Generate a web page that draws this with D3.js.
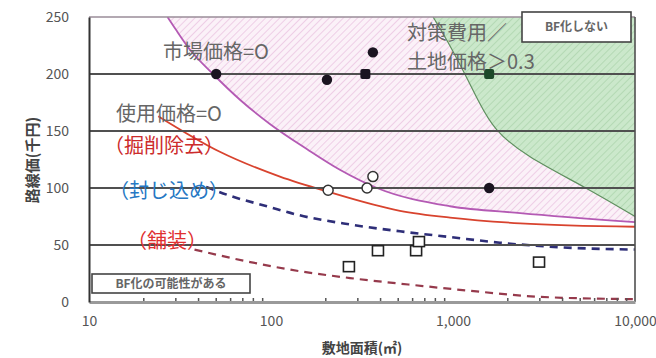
<!DOCTYPE html>
<html>
<head>
<meta charset="utf-8">
<script src="https://cdn.jsdelivr.net/npm/d3@7"></script>
<style>
  html, body { margin: 0; padding: 0; background: #fff; }
  svg { display: block; }
  text { font-family: "Noto Sans CJK JP", "Noto Sans", sans-serif; }
</style>
</head>
<body>
<svg id="chart" width="656" height="358"></svg>
<script>
// 敷地面積 (㎡) × 路線価 (千円)
const xTickValues = [10, 100, 1000, 10000];
const xTickLabels = ["10", "100", "1,000", "10,000"];
const yTickValues = [0, 50, 100, 150, 200, 250];
const gridValues = [50, 100, 150, 200];

// 境界曲線 [面積, 路線価]
const marketZeroCurve = [[27, 250], [30, 239], [36, 221], [48, 200], [68, 177], [99, 156], [158, 134], [239, 116], [382, 100], [963, 84], [2340, 78], [10000, 70]];
const excavationCurve = [[24, 163], [52, 132], [112, 110], [203, 97], [511, 80], [963, 74], [2340, 69], [10000, 66]];
const containmentCurve = [[44, 101], [60, 93], [95, 84], [144, 76], [272, 68], [511, 62], [963, 57], [1810, 52], [3870, 48], [10000, 46]];
const pavingCurve = [[38, 46], [77, 35], [144, 27], [272, 21], [684, 14], [1400, 9], [3000, 4.5], [10000, 2.5]];
const costRatioCurve = [[777, 250], [927, 230], [1164, 200], [1400, 174], [1680, 151], [2500, 128], [5450, 100], [10000, 75]];

// 事例
const filledCircles = [[50, 200], [203, 195], [363, 219], [1580, 100]];
const filledSquares = [[330, 200]];
const greenSquares = [[1580, 200]];
const openCircles = [[206, 98], [337, 100], [363, 110]];
const openSquares = [[268, 31], [387, 45], [627, 45], [650, 53], [2970, 35]];

const svg = d3.select("#chart");
const W = 656, H = 358;
const m = { left: 89, right: 21, top: 17, bottom: 56 };
const x = d3.scaleLog().domain([10, 10000]).range([m.left, W - m.right]);
const y = d3.scaleLinear().domain([0, 250]).range([H - m.bottom, m.top]);

const defs = svg.append("defs");
function hatch(id, bg, fg) {
  const p = defs.append("pattern").attr("id", id)
    .attr("patternUnits", "userSpaceOnUse").attr("width", 5).attr("height", 5)
    .attr("patternTransform", "rotate(45)");
  p.append("rect").attr("width", 5).attr("height", 5).attr("fill", bg);
  p.append("line").attr("x1", 0).attr("y1", 0).attr("x2", 0).attr("y2", 5)
    .attr("stroke", fg).attr("stroke-width", 1.6);
}
hatch("pinkHatch", "#fbf1f8", "#ebc6e2");
hatch("greenHatch", "#cbe8cb", "#aed6ae");
defs.append("clipPath").attr("id", "plotClip").append("rect")
  .attr("x", m.left).attr("y", m.top)
  .attr("width", W - m.left - m.right).attr("height", H - m.top - m.bottom);

const line = d3.line().x(d => x(d[0])).y(d => y(d[1])).curve(d3.curveMonotoneX);
const smoothLine = d3.line().x(d => x(d[0])).y(d => y(d[1])).curve(d3.curveBasis);

const plot = svg.append("g").attr("clip-path", "url(#plotClip)");

// 市場価格=0 より上の領域
plot.append("path").attr("d", line(marketZeroCurve) + "L" + x(10000) + "," + y(250) + "Z")
  .attr("fill", "url(#pinkHatch)");
// 対策費用/土地価格>0.3 の領域
plot.append("path").attr("d", smoothLine(costRatioCurve) + "L" + x(10000) + "," + y(250) + "Z")
  .attr("fill", "url(#greenHatch)");

// 横グリッド
svg.append("g").selectAll("line").data(gridValues).join("line")
  .attr("x1", m.left).attr("x2", W - m.right)
  .attr("y1", d => y(d)).attr("y2", d => y(d))
  .attr("stroke", "#505050").attr("stroke-width", 1.8);

// 上枠
svg.append("line").attr("x1", m.left).attr("x2", W - m.right)
  .attr("y1", y(250)).attr("y2", y(250))
  .attr("stroke", "#9a8c98").attr("stroke-width", 1.4);
// 右枠
svg.append("line").attr("x1", x(10000)).attr("x2", x(10000))
  .attr("y1", y(250)).attr("y2", y(0))
  .attr("stroke", "#505050").attr("stroke-width", 1.6);

// 境界線
plot.append("path").attr("d", smoothLine(costRatioCurve)).attr("fill", "none")
  .attr("stroke", "#5f8f5f").attr("stroke-width", 1.2);
plot.append("path").attr("d", line(pavingCurve)).attr("fill", "none")
  .attr("stroke", "#963a4c").attr("stroke-width", 2.2).attr("stroke-dasharray", "8,6");
plot.append("path").attr("d", line(containmentCurve)).attr("fill", "none")
  .attr("stroke", "#2e2e78").attr("stroke-width", 2.6).attr("stroke-dasharray", "8,6");
plot.append("path").attr("d", line(excavationCurve)).attr("fill", "none")
  .attr("stroke", "#d8432e").attr("stroke-width", 1.8);
plot.append("path").attr("d", line(marketZeroCurve)).attr("fill", "none")
  .attr("stroke", "#b45ab4").attr("stroke-width", 1.8);

// 軸
const xAxis = d3.axisBottom(x).tickValues(xTickValues).tickFormat((d, i) => xTickLabels[i]).tickSize(0).tickPadding(14);
const gx = svg.append("g").attr("transform", `translate(0,${y(0)})`).call(xAxis);
gx.select(".domain").attr("stroke", "#9a9a9a").attr("stroke-width", 3);
gx.selectAll("text").attr("font-family", "Liberation Sans, Arial, sans-serif")
  .attr("font-size", 14).attr("fill", "#555");
// 補助目盛
const minor = [];
[10, 100, 1000].forEach(b => { for (let k = 2; k <= 9; k++) minor.push(b * k); });
svg.append("g").selectAll("line").data(minor).join("line")
  .attr("x1", d => x(d)).attr("x2", d => x(d))
  .attr("y1", y(0) - 1).attr("y2", y(0) - 4)
  .attr("stroke", "#555").attr("stroke-width", 1.5);

const yAxis = d3.axisLeft(y).tickValues(yTickValues).tickSize(0).tickPadding(20);
const gy = svg.append("g").attr("transform", `translate(${m.left},0)`).call(yAxis);
gy.select(".domain").attr("stroke", "#333").attr("stroke-width", 2);
gy.selectAll("text").attr("font-family", "Liberation Sans, Arial, sans-serif")
  .attr("font-size", 14).attr("fill", "#555");

// 事例マーカー
const pts = svg.append("g");
pts.selectAll(".fc").data(filledCircles).join("circle")
  .attr("cx", d => x(d[0])).attr("cy", d => y(d[1])).attr("r", 5.2)
  .attr("fill", "#1a1420");
pts.selectAll(".fs").data(filledSquares).join("rect")
  .attr("x", d => x(d[0]) - 5).attr("y", d => y(d[1]) - 5).attr("width", 10).attr("height", 10).attr("rx", 2)
  .attr("fill", "#1a1420");
pts.selectAll(".gs").data(greenSquares).join("rect")
  .attr("x", d => x(d[0]) - 5).attr("y", d => y(d[1]) - 5).attr("width", 10).attr("height", 10).attr("rx", 2)
  .attr("fill", "#1d4a2a");
pts.selectAll(".oc").data(openCircles).join("circle")
  .attr("cx", d => x(d[0])).attr("cy", d => y(d[1])).attr("r", 5)
  .attr("fill", "#fff").attr("stroke", "#333").attr("stroke-width", 1.5);
pts.selectAll(".os").data(openSquares).join("rect")
  .attr("x", d => x(d[0]) - 5.5).attr("y", d => y(d[1]) - 5).attr("width", 11).attr("height", 10)
  .attr("fill", "#fff").attr("stroke", "#222").attr("stroke-width", 1.6);

// 注記
const notes = [
  { t: "市場価格=O", x: 163, y: 59, c: "#666" },
  { t: "使用価格=O", x: 116, y: 121, c: "#666" },
  { t: "（掘削除去）", x: 104, y: 153, c: "#cc2b2b" },
  { t: "（封じ込め）", x: 109, y: 198, c: "#2678c4" },
  { t: "（舗装）", x: 127, y: 248, c: "#e03030" },
  { t: "対策費用／", x: 407, y: 40, c: "#666" },
  { t: "土地価格＞0.3", x: 407, y: 69, c: "#666" }
];
svg.append("g").selectAll("text").data(notes).join("text")
  .attr("x", d => d.x).attr("y", d => d.y).attr("fill", d => d.c)
  .attr("font-size", 20).text(d => d.t);

// 凡例ボックス
function box(x0, y0, w, h, label, fs) {
  const g = svg.append("g");
  g.append("rect").attr("x", x0).attr("y", y0).attr("width", w).attr("height", h)
    .attr("fill", "#fff").attr("stroke", "#444").attr("stroke-width", 1.6);
  g.append("text").attr("x", x0 + w / 2).attr("y", y0 + h / 2 + fs * 0.36)
    .attr("text-anchor", "middle").attr("font-size", fs).attr("font-weight", "bold")
    .attr("fill", "#666").text(label);
}
box(522, 12, 109, 30, "BF化しない", 12);
box(92, 274, 158, 19, "BF化の可能性がある", 12);

// 軸タイトル
svg.append("text").attr("transform", "translate(38,160) rotate(-90)")
  .attr("text-anchor", "middle").attr("font-size", 15).attr("font-weight", "bold")
  .attr("fill", "#444").text("路線価(千円)");
svg.append("text").attr("x", 362).attr("y", 353)
  .attr("text-anchor", "middle").attr("font-size", 14).attr("font-weight", "bold")
  .attr("fill", "#444").text("敷地面積(㎡)");
</script>
</body>
</html>
